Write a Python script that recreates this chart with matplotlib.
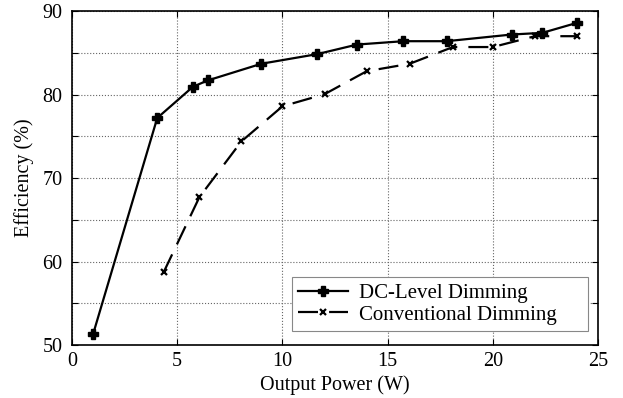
import matplotlib.pyplot as plt

# DC-level dimming curve
dc_power = [1.0, 4.05, 5.75, 6.45, 9.0, 11.65, 13.55, 15.75, 17.8, 20.9, 22.35, 24.0]
dc_eff = [51.3, 77.2, 80.95, 81.7, 83.7, 84.85, 86.0, 86.4, 86.4, 87.2, 87.4, 88.6]

# conventional dimming curve
conv_power = [4.35, 6.05, 8.05, 10.0, 12.0, 14.0, 16.05, 18.1, 20.0, 22.0, 24.0]
conv_eff = [58.7, 67.7, 74.4, 78.6, 80.05, 82.8, 83.7, 85.7, 85.7, 87.0, 87.0]

x_ticks = [0, 5, 10, 15, 20, 25]
y_ticks = [50, 55, 60, 65, 70, 75, 80, 85, 90]
y_labels = ['50', '', '60', '', '70', '', '80', '', '90']

plt.rcParams['font.family'] = ['Liberation Serif', 'DejaVu Serif']

fig = plt.figure(figsize=(6.23, 3.98), dpi=100)
ax = fig.add_axes([0.1156, 0.133, 0.8444, 0.839])

ax.plot(dc_power, dc_eff, '-', color='black', linewidth=1.6,
        marker='P', markersize=7, label='DC-Level Dimming')
ax.plot(conv_power, conv_eff, color='black', linewidth=1.6, dashes=(9, 5),
        marker='x', markersize=5, markeredgewidth=1.6, label='Conventional Dimming')

ax.set_xlim(0, 25)
ax.set_ylim(50, 90)
ax.set_xticks(x_ticks)
ax.set_yticks(y_ticks)
ax.set_yticklabels(y_labels)
ax.tick_params(direction='in', top=True, right=True, labelsize=14.5, length=4, width=0.8)
ax.tick_params(axis='y', pad=7)
ax.tick_params(axis='x', pad=5)
ax.grid(True, linestyle=':', color='#666666', linewidth=0.8)
for s in ax.spines.values():
    s.set_linewidth(1.2)

ax.set_xlabel('Output Power (W)', fontsize=14.5, labelpad=3)
ax.set_ylabel('Efficiency (%)', fontsize=14.5, labelpad=6)

# legend box stretched to the width used in the original (extra space on the right)
leg = ax.legend(loc='lower left', fontsize=15, fancybox=False, framealpha=1,
                edgecolor='#888888', handlelength=2.4, borderpad=0.3,
                labelspacing=0.1, handletextpad=0.5, borderaxespad=0,
                mode='expand', bbox_to_anchor=(0.418, 0.042, 0.563, 0.17))
leg.get_frame().set_linewidth(0.8)

fig.savefig('out.png', dpi=100)
